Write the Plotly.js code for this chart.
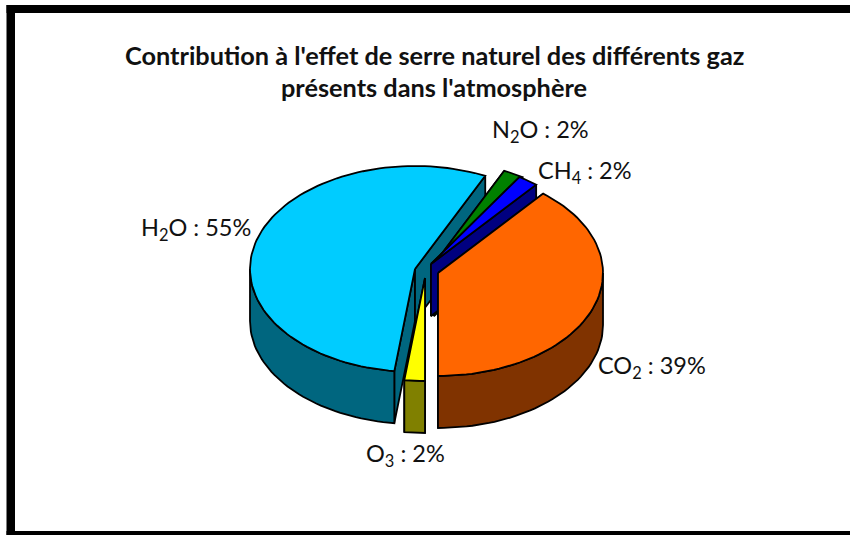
<!DOCTYPE html>
<html><head><meta charset="utf-8">
<script src="https://cdn.plot.ly/plotly-3.0.1.min.js"></script>
<style>html,body{margin:0;padding:0;background:#fff}#c{width:850px;height:535px}</style>
</head><body><div id="c"></div>
<script>
// Data, clockwise from the H2O slice
const gases = ["H<sub>2</sub>O", "N<sub>2</sub>O", "CH<sub>4</sub>", "CO<sub>2</sub>", "O<sub>3</sub>"];
const shares = [55, 2, 2, 39, 2];
const titleLines = ["Contribution à l'effet de serre naturel des différents gaz", "présents dans l'atmosphère"];

// Styles and projection of the 3-D look (paper pixels)
const topColors = ["#00CCFF", "#008000", "#0000FF", "#FF6600", "#FFFF00"];
const sideColors = ["#00667F", "#004000", "#000080", "#803300", "#808000"];
const apexX = [415, 434, 431, 438, 425];
const apexY = [269, 264, 264, 273, 278];
const labelX = [196, 540, 585, 652, 405];
const labelY = [229, 131, 172, 367, 455];
const drawOrder = [0, 4, 1, 2, 3];
const RX = 165, RY = 103, DEPTH = 52;
const startAngle = 187.2; // degrees clockwise from top where H2O begins

const total = shares.reduce((a, b) => a + b, 0);
function pt(i, deg, drop) {
  const r = deg * Math.PI / 180;
  return [apexX[i] + RX * Math.sin(r), apexY[i] - RY * Math.cos(r) + (drop || 0)];
}
function arc(i, a0, a1, drop) {
  const out = [], n = Math.max(2, Math.ceil(Math.abs(a1 - a0) / 2));
  for (let k = 0; k <= n; k++) out.push(pt(i, a0 + (a1 - a0) * k / n, drop));
  return out;
}
function poly(points, color) {
  const closed = points.concat([points[0]]);
  return {
    type: "scatter", mode: "lines", fill: "toself", fillcolor: color,
    x: closed.map(p => p[0]), y: closed.map(p => p[1]),
    line: {color: "#000", width: 1.8, shape: "linear"}, hoverinfo: "skip", showlegend: false
  };
}
const spans = [];
let a = startAngle;
shares.forEach(v => { spans.push([a, a + v / total * 360]); a += v / total * 360; });

const traces = [];
drawOrder.forEach(i => {
  const [a0, a1] = spans[i];
  const apex = [apexX[i], apexY[i]], apexLow = [apexX[i], apexY[i] + DEPTH];
  const s = sideColors[i];
  [a0, a1].forEach(ang => {
    traces.push(poly([apex, pt(i, ang), pt(i, ang, DEPTH), apexLow], s));
  });
  for (const shift of [0, 360]) {
    const lo = Math.max(a0, 90 + shift), hi = Math.min(a1, 270 + shift);
    if (hi > lo) traces.push(poly(arc(i, lo, hi, 0).concat(arc(i, hi, lo, DEPTH)), s));
  }
  traces.push(poly([apex].concat(arc(i, a0, a1, 0)), topColors[i]));
});

const txt = {family: "Lato, 'Liberation Sans', sans-serif", color: "#111"};
const annotations = shares.map((v, i) => ({
  x: labelX[i], y: labelY[i], xref: "x", yref: "y", showarrow: false,
  text: gases[i] + " : " + v + "%", font: Object.assign({size: 23.5}, txt), xanchor: "center", yanchor: "middle"
}));
titleLines.forEach((t, k) => annotations.push({
  x: 434, y: [55, 87][k], xref: "x", yref: "y", showarrow: false,
  text: "<b>" + t + "</b>", font: Object.assign({size: 25.3}, txt), xanchor: "center", yanchor: "middle"
}));

Plotly.newPlot("c", traces, {
  width: 850, height: 535, margin: {l: 0, r: 0, t: 0, b: 0},
  paper_bgcolor: "#fff", plot_bgcolor: "#fff", showlegend: false,
  xaxis: {range: [0, 850], visible: false, fixedrange: true},
  yaxis: {range: [535, 0], visible: false, fixedrange: true},
  annotations,
  shapes: [
    {type: "rect", xref: "x", yref: "y", x0: 6.5, x1: 15, y0: 5, y1: 535, fillcolor: "#000", line: {width: 0}, layer: "below"},
    {type: "rect", xref: "x", yref: "y", x0: 6.5, x1: 850, y0: 5, y1: 13, fillcolor: "#000", line: {width: 0}, layer: "below"},
    {type: "rect", xref: "x", yref: "y", x0: 6.5, x1: 850, y0: 531, y1: 535, fillcolor: "#000", line: {width: 0}, layer: "below"}
  ]
}, {displayModeBar: false, staticPlot: true});
</script></body></html>
